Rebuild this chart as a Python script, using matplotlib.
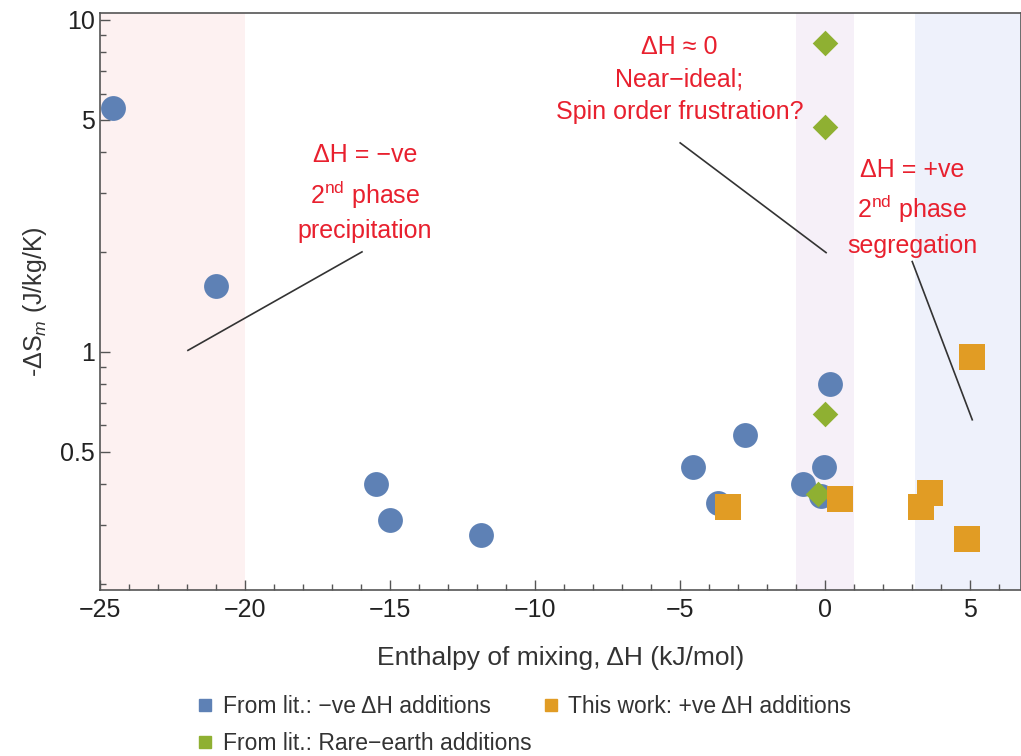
import matplotlib.pyplot as plt
import numpy as np
from matplotlib.lines import Line2D
from matplotlib.ticker import FixedLocator, NullFormatter

plt.rcParams['font.family'] = ['Liberation Sans', 'DejaVu Sans']
plt.rcParams['mathtext.fontset'] = 'custom'
plt.rcParams['mathtext.rm'] = 'Liberation Sans'
plt.rcParams['mathtext.it'] = 'Liberation Sans:italic'

# From lit.: -ve dH additions
neg_x = [-24.55, -21.0, -15.5, -15.0, -11.85, -4.55, -2.75, -3.7, -0.75, -0.05, 0.15, -0.15]
neg_y = [5.43, 1.58, 0.40, 0.312, 0.281, 0.45, 0.562, 0.351, 0.40, 0.45, 0.80, 0.368]

# From lit.: rare-earth additions
re_x = [0.0, 0.0, 0.0, -0.25]
re_y = [8.5, 4.76, 0.65, 0.373]

# This work: +ve dH additions
pos_x = [-3.35, 0.5, 3.3, 3.6, 5.05, 4.9]
pos_y = [0.341, 0.36, 0.341, 0.376, 0.966, 0.272]

labels = ['From lit.: \u2212ve \u0394H additions',
          'From lit.: Rare\u2212earth additions',
          'This work: +ve \u0394H additions']

blue = '#5E81B5'
orange = '#E19C24'
green = '#8FB032'
red = '#E8202E'

fig = plt.figure(figsize=(10.21, 7.56), dpi=100)
ax = fig.add_axes([0.098, 0.22, 0.902, 0.763])

# shaded regimes
ax.axvspan(-25, -20, color='#FDF1F1', zorder=0, lw=0)
ax.axvspan(-1, 1, color='#F6F0F8', zorder=0, lw=0)
ax.axvspan(3.1, 6.8, color='#EEF1FB', zorder=0, lw=0)

ax.scatter(neg_x, neg_y, s=320, marker='o', color=blue, zorder=3, lw=0)
ax.scatter(re_x, re_y, s=170, marker='D', color=green, zorder=4, lw=0)
ax.scatter(pos_x, pos_y, s=330, marker='s', color=orange, zorder=4, lw=0)

ax.set_yscale('log')
ax.set_xlim(-25, 6.75)
ax.set_ylim(0.192, 10.5)

ax.yaxis.set_major_locator(FixedLocator([0.5, 1, 5, 10]))
ax.yaxis.set_major_formatter(plt.FixedFormatter(['0.5', '1', '5', '10']))
ax.yaxis.set_minor_locator(FixedLocator([0.2, 0.3, 0.4, 0.6, 0.7, 0.8, 0.9, 2, 3, 4, 6, 7, 8, 9]))
ax.yaxis.set_minor_formatter(NullFormatter())
ax.set_xticks(np.arange(-25, 6, 5))
ax.set_xticklabels(['\u221225', '\u221220', '\u221215', '\u221210', '\u22125', '0', '5'])
ax.set_xticks(np.arange(-25, 7, 1), minor=True)
ax.tick_params(which='major', direction='in', length=7, labelsize=18, width=1,
               color='#555555', labelcolor='#222222')
ax.tick_params(which='minor', direction='in', length=4, width=1, color='#555555')
ax.tick_params(axis='x', which='major', pad=6)
ax.tick_params(axis='y', which='major', pad=4)

for sp in ax.spines.values():
    sp.set_color('#555555')
    sp.set_linewidth(1.2)

ax.set_xlabel('Enthalpy of mixing, \u0394H (kJ/mol)', fontsize=19, labelpad=17, color='#333333')
ax.set_ylabel('-\u0394S$_{m}$ (J/kg/K)', fontsize=18, labelpad=8, color='#333333')

# annotations
ax.text(-15.86, 3.0, '\u0394H = \u2212ve\n2$^{\\rm nd}$ phase\nprecipitation', color=red,
        fontsize=18, ha='center', va='center', linespacing=1.45)
ax.plot([-21.97, -15.97], [1.01, 2.0], color='#333333', lw=1.2)

ax.text(-5.03, 6.6, '\u0394H \u2248 0\nNear\u2212ideal;\nSpin order frustration?', color=red,
        fontsize=18, ha='center', va='center', linespacing=1.45)
ax.plot([-5.0, 0.03], [4.26, 1.99], color='#333333', lw=1.2)

ax.text(3.0, 2.72, '\u0394H = +ve\n2$^{\\rm nd}$ phase\nsegregation', color=red,
        fontsize=18, ha='center', va='center', linespacing=1.45)
ax.plot([3.0, 5.07], [1.87, 0.624], color='#333333', lw=1.2)

handles = [Line2D([], [], ls='none', marker='s', ms=9, color=c) for c in (blue, green, orange)]
fig.legend(handles, labels, loc='lower left', bbox_to_anchor=(0.172, -0.026), ncol=2,
           frameon=False, fontsize=16.5, handletextpad=0.35, columnspacing=0.45,
           labelspacing=0.6, handlelength=0.8, labelcolor='#333333')

plt.savefig('out.png', dpi=100)
